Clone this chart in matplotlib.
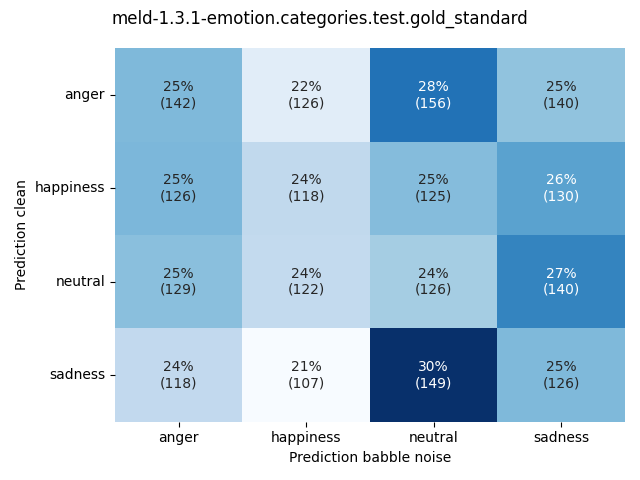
import numpy as np
import pandas as pd
import seaborn as sns
import matplotlib
matplotlib.use("Agg")
import matplotlib.pyplot as plt

labels = ["anger", "happiness", "neutral", "sadness"]
# rows: prediction clean, cols: prediction babble noise
counts = np.array([
    [142, 126, 156, 140],
    [126, 118, 125, 130],
    [129, 122, 126, 140],
    [118, 107, 149, 126],
])

pct = counts / counts.sum(axis=1, keepdims=True)
annot = np.array([["{:.0%}\n({})".format(p, c) for p, c in zip(pr, cr)]
                  for pr, cr in zip(pct, counts)])

df = pd.DataFrame(pct, index=labels, columns=labels)

fig, ax = plt.subplots(figsize=(6.4, 4.8), dpi=100)
sns.heatmap(df, annot=annot, fmt="", cmap="Blues", cbar=False, ax=ax)
ax.set_xlabel("Prediction babble noise")
ax.set_ylabel("Prediction clean")
plt.yticks(rotation=0)
fig.suptitle("meld-1.3.1-emotion.categories.test.gold_standard")
plt.tight_layout()
plt.savefig("out.png")
